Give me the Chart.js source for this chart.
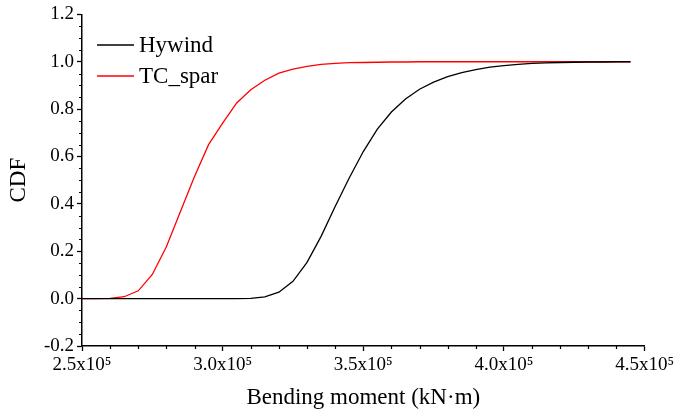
<!DOCTYPE html>
<html>
<head>
<meta charset="utf-8">
<script src="https://cdn.jsdelivr.net/npm/chart.js@4/dist/chart.umd.min.js"></script>
<style>
  html, body { margin: 0; padding: 0; background: #fff; }
</style>
</head>
<body>
<canvas id="cdfChart" width="677" height="416"></canvas>
<script>
// bending moment (kN·m), one point every 5000
const moment = [
  250000, 255000, 260000, 265000, 270000, 275000, 280000, 285000, 290000, 295000,
  300000, 305000, 310000, 315000, 320000, 325000, 330000, 335000, 340000, 345000,
  350000, 355000, 360000, 365000, 370000, 375000, 380000, 385000, 390000, 395000,
  400000, 405000, 410000, 415000, 420000, 425000, 430000, 435000, 440000, 445000
];
const hywind = [
  0, 0, 0, 0, 0, 0, 0, 0, 0, 0,
  0, 0, 0.001, 0.007, 0.027, 0.073, 0.153, 0.263, 0.389, 0.509,
  0.621, 0.716, 0.788, 0.843, 0.884, 0.914, 0.937, 0.954, 0.967, 0.977,
  0.984, 0.989, 0.993, 0.995, 0.997, 0.998, 0.999, 0.999, 1.0, 1.0
];
const tcSpar = [
  0, 0, 0.001, 0.008, 0.033, 0.102, 0.219, 0.368, 0.516, 0.650,
  0.741, 0.826, 0.882, 0.922, 0.952, 0.969, 0.981, 0.989, 0.993, 0.996,
  0.997, 0.998, 0.999, 0.999, 1.0, 1.0, 1.0, 1.0, 1.0, 1.0,
  1.0, 1.0, 1.0, 1.0, 1.0, 1.0, 1.0, 1.0, 1.0, 1.0
];
const seriesNames = ['Hywind', 'TC_spar'];
const seriesColors = ['#000000', '#ff0000'];

const serif = '"Liberation Serif", "Times New Roman", serif';

function toPoints(ys) {
  return moment.map((x, i) => ({ x: x, y: ys[i] }));
}

// minor ticks (Chart.js has none)
const minorTicks = {
  id: 'minorTicks',
  afterDraw(chart) {
    const ctx = chart.ctx;
    const xs = chart.scales.x, ys = chart.scales.y;
    ctx.save();
    ctx.strokeStyle = '#000';
    ctx.lineWidth = 1.2;
    ctx.beginPath();
    for (let v = 260000; v < 450000; v += 10000) {
      if (v % 50000 === 0) continue;
      const px = Math.round(xs.getPixelForValue(v)) + 0.5;
      ctx.moveTo(px, xs.top);
      ctx.lineTo(px, xs.top + 3);
    }
    for (let i = -3; i < 24; i++) {
      if (i % 4 === 0) continue;
      const py = Math.round(ys.getPixelForValue(i * 0.05)) + 0.5;
      ctx.moveTo(ys.right, py);
      ctx.lineTo(ys.right - 3, py);
    }
    ctx.stroke();
    ctx.restore();
  }
};

// legend inside the plot, top-left
const innerLegend = {
  id: 'innerLegend',
  afterDraw(chart) {
    const ctx = chart.ctx;
    ctx.save();
    ctx.font = '23px ' + serif;
    ctx.textBaseline = 'middle';
    ctx.fillStyle = '#000';
    chart.data.datasets.forEach((ds, i) => {
      const y = 45 + i * 31;
      ctx.strokeStyle = ds.borderColor;
      ctx.lineWidth = 1.3;
      ctx.beginPath();
      ctx.moveTo(97, y);
      ctx.lineTo(134, y);
      ctx.stroke();
      ctx.fillText(ds.label, 139, y + 1);
    });
    ctx.restore();
  }
};

new Chart(document.getElementById('cdfChart'), {
  type: 'line',
  data: {
    datasets: [
      { label: seriesNames[0], data: toPoints(hywind), borderColor: seriesColors[0] },
      { label: seriesNames[1], data: toPoints(tcSpar), borderColor: seriesColors[1] }
    ]
  },
  options: {
    responsive: false,
    animation: false,
    layout: { padding: { top: 14, right: 30, left: 0, bottom: 0 } },
    elements: {
      line: { borderWidth: 1.3, tension: 0, fill: false },
      point: { radius: 0 }
    },
    plugins: {
      legend: { display: false },
      tooltip: { enabled: false }
    },
    scales: {
      x: {
        type: 'linear',
        min: 250000,
        max: 450000,
        afterFit: s => { s.height = 70; },
        ticks: {
          stepSize: 50000,
          color: '#000',
          font: { family: serif, size: 19 },
          padding: 3,
          maxRotation: 0,
          callback: v => (v / 100000).toFixed(1) + 'x10\u2075'
        },
        grid: { drawOnChartArea: false, drawTicks: true, tickLength: 5, tickColor: '#000', tickWidth: 1.3 },
        border: { color: '#000', width: 1.5 },
        title: {
          display: true,
          text: 'Bending moment (kN\u00b7m)',
          color: '#000',
          font: { family: serif, size: 23 },
          padding: { top: 4, bottom: 4 }
        }
      },
      y: {
        min: -0.2,
        max: 1.2,
        afterFit: s => { s.width = 82; },
        ticks: {
          stepSize: 0.2,
          color: '#000',
          font: { family: serif, size: 19 },
          padding: 3,
          callback: v => Math.abs(v) < 1e-9 ? '0.0' : v.toFixed(1)
        },
        grid: { drawOnChartArea: false, drawTicks: true, tickLength: 5, tickColor: '#000', tickWidth: 1.3 },
        border: { color: '#000', width: 1.5 },
        title: {
          display: true,
          text: 'CDF',
          color: '#000',
          font: { family: serif, size: 23 },
          padding: { top: 5, bottom: 4 }
        }
      }
    }
  },
  plugins: [minorTicks, innerLegend]
});
</script>
</body>
</html>
